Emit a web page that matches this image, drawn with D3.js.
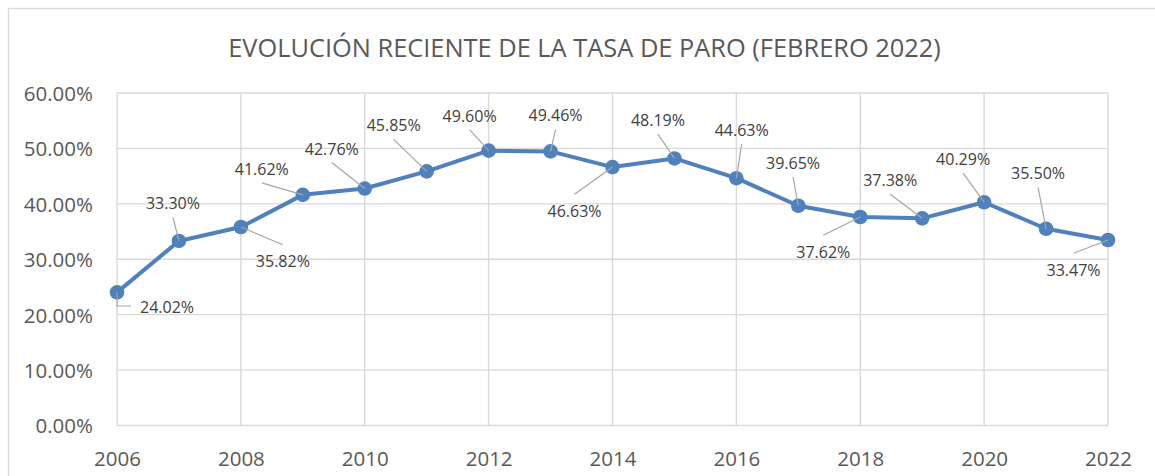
<!DOCTYPE html>
<html>
<head>
<meta charset="utf-8">
<script src="https://cdn.jsdelivr.net/npm/d3@7"></script>
<style>
  html, body { margin: 0; padding: 0; background: #fff; }
  svg { display: block; font-family: "Open Sans", "Noto Sans", sans-serif; }
</style>
</head>
<body>
<svg id="chart" width="1155" height="476"></svg>
<script>
// Tasa de paro por año (%)
const years = [2006, 2007, 2008, 2009, 2010, 2011, 2012, 2013, 2014, 2015, 2016, 2017, 2018, 2019, 2020, 2021, 2022];
const rates = [24.02, 33.30, 35.82, 41.62, 42.76, 45.85, 49.60, 49.46, 46.63, 48.19, 44.63, 39.65, 37.62, 37.38, 40.29, 35.50, 33.47];
const yTicks = [0, 10, 20, 30, 40, 50, 60];
const xTicks = [2006, 2008, 2010, 2012, 2014, 2016, 2018, 2020, 2022];
const title = "EVOLUCIÓN RECIENTE DE LA TASA DE PARO (FEBRERO 2022)";

// Data-label placement: offset of each label (centre, baseline) from its point
const labelOffsets = [
  [50, 20.6], [-6, -31.6], [42, 40.3], [-41, -20], [-33, -34], [-33, -40],
  [-19, -29], [5, -30], [-38, 49.6], [-16.5, -32.4], [5.3, -42], [-5.3, -37],
  [-37, 40.7], [-32, -32], [-21, -37], [-8, -49.5], [-34.5, 35.7]
];

const svg = d3.select("#chart");
const plot = { left: 117, right: 1108, top: 93, bottom: 425.5 };
const textColor = "#595959";
const gridColor = "#d9d9d9";
const lineColor = "#4f81bd";

// Chart frame
svg.append("rect")
  .attr("x", 8.5).attr("y", 8.5)
  .attr("width", 1170).attr("height", 490)
  .attr("fill", "#fff").attr("stroke", gridColor).attr("stroke-width", 1.3);

const x = d3.scaleLinear().domain([2006, 2022]).range([plot.left, plot.right]);
const y = d3.scaleLinear().domain([0, 60]).range([plot.bottom, plot.top]);

// Gridlines
const grid = svg.append("g");
grid.selectAll("line.h").data(yTicks).join("line")
  .attr("x1", plot.left).attr("x2", plot.right)
  .attr("y1", d => y(d)).attr("y2", d => y(d))
  .attr("stroke", gridColor).attr("stroke-width", 1.4);
grid.selectAll("line.v").data(xTicks).join("line")
  .attr("x1", d => x(d)).attr("x2", d => x(d))
  .attr("y1", plot.top).attr("y2", plot.bottom)
  .attr("stroke", gridColor).attr("stroke-width", 1.4);

// Axes (labels only)
const yAxis = d3.axisLeft(y).tickValues(yTicks).tickSize(0).tickPadding(0)
  .tickFormat(d => d.toFixed(2) + "%");
const gy = svg.append("g").attr("transform", `translate(${plot.left - 24},0)`).call(yAxis);
gy.select(".domain").remove();
gy.selectAll("text").attr("fill", textColor).attr("font-size", 20.5)
  .attr("font-family", "Open Sans").attr("dy", "0.36em");

const xAxis = d3.axisBottom(x).tickValues(xTicks).tickSize(0).tickPadding(0)
  .tickFormat(d3.format("d"));
const gx = svg.append("g").attr("transform", `translate(0,${plot.bottom})`).call(xAxis);
gx.select(".domain").remove();
gx.selectAll("text").attr("fill", textColor).attr("font-size", 20.5)
  .attr("font-family", "Open Sans").attr("dy", null).attr("y", 40);

// Title
svg.append("text")
  .attr("x", (227 + 942) / 2).attr("y", 56.5)
  .attr("text-anchor", "middle")
  .attr("fill", textColor).attr("font-size", 25.4)
  .text(title);

// Series line
const pts = years.map((yr, i) => ({ year: yr, value: rates[i], off: labelOffsets[i] }));
const line = d3.line().x(d => x(d.year)).y(d => y(d.value));
svg.append("path").datum(pts)
  .attr("d", line)
  .attr("fill", "none").attr("stroke", lineColor)
  .attr("stroke-width", 4).attr("stroke-linejoin", "round");

svg.append("g").selectAll("circle").data(pts).join("circle")
  .attr("cx", d => x(d.year)).attr("cy", d => y(d.value))
  .attr("r", 7.3).attr("fill", lineColor);

// Leader lines
const leaders = svg.append("g").attr("stroke", "#a6a6a6").attr("stroke-width", 1.2).attr("fill", "none");
pts.forEach((d, i) => {
  const px = x(d.year), py = y(d.value);
  const lx = px + d.off[0], ly = py + d.off[1];
  if (i === 0) {
    // elbow connector for the first label
    leaders.append("path").attr("d", `M${px},${py} V${ly - 7} H${lx - 36}`);
  } else {
    const sy = d.off[1] < 0 ? ly + 8 : ly - 22.5;
    leaders.append("line")
      .attr("x1", lx).attr("y1", sy)
      .attr("x2", px).attr("y2", py);
  }
});

// Data labels
svg.append("g").selectAll("text").data(pts).join("text")
  .attr("x", d => x(d.year) + d.off[0])
  .attr("y", d => y(d.value) + d.off[1])
  .attr("text-anchor", "middle")
  .attr("fill", "#404040").attr("font-size", 16)
  .text(d => d.value.toFixed(2) + "%");
</script>
</body>
</html>
